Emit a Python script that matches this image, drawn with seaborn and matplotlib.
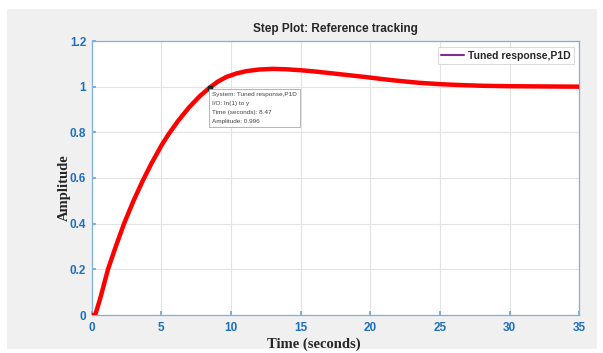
import numpy as np
import pandas as pd
import matplotlib
matplotlib.use("Agg")
import matplotlib.pyplot as plt
from matplotlib.lines import Line2D
from matplotlib.patches import Rectangle
import seaborn as sns

# Step response of the tuned PID loop
time_s = [0.0, 0.25, 0.6, 1.17, 1.7, 2.32, 3.0, 3.64, 4.3, 5.03, 5.5, 6.2,
          7.0, 7.75, 8.47, 9.05, 9.68, 10.4, 11.1, 12.0, 13.0, 14.0, 15.0,
          16.1, 17.3, 18.5, 19.7, 20.9, 22.1, 23.5, 25.0, 26.5, 28.0, 30.0,
          32.5, 35.0]
amplitude = [0.0, 0.0, 0.07, 0.2, 0.295, 0.40, 0.50, 0.585, 0.665, 0.745,
             0.79, 0.85, 0.91, 0.958, 0.996, 1.022, 1.043, 1.058, 1.068,
             1.075, 1.078, 1.076, 1.072, 1.066, 1.058, 1.050, 1.042, 1.033,
             1.025, 1.017, 1.011, 1.007, 1.004, 1.002, 1.001, 1.000]

x_ticks = [0, 5, 10, 15, 20, 25, 30, 35]
y_ticks = [0, 0.2, 0.4, 0.6, 0.8, 1.0, 1.2]
y_tick_labels = ["0", "0.2", "0.4", "0.6", "0.8", "1", "1.2"]

series_name = "Tuned response,P1D"
probe_time = 8.47
probe_amp = 0.996

sns.set_theme(style="whitegrid")
plt.rcParams["font.family"] = ["Liberation Sans", "DejaVu Sans"]

df = pd.DataFrame({"Time": time_s, "Amplitude": amplitude})

fig = plt.figure(figsize=(6.03, 3.53), dpi=100, facecolor="white")
fig.patches.append(Rectangle((7 / 603, 4 / 353), 590 / 603, 340 / 353,
                             transform=fig.transFigure, facecolor="#f0f0f0",
                             edgecolor="none", zorder=-10))
ax = fig.add_axes([91.7 / 603, 1 - 315 / 353, (579.3 - 91.7) / 603, (315 - 41) / 353])
ax.set_facecolor("white")

sns.lineplot(data=df, x="Time", y="Amplitude", ax=ax, color="#ff0000",
             linewidth=3.2, legend=False, zorder=3)
for ln in ax.get_lines():
    ln.set_solid_joinstyle("round")
    ln.set_solid_capstyle("round")

ax.set_xlim(0, 35)
ax.set_ylim(0, 1.2)
ax.set_xticks(x_ticks)
ax.set_xticklabels([str(v) for v in x_ticks])
ax.set_yticks(y_ticks)
ax.set_yticklabels(y_tick_labels)

tick_blue = "#1f6fbf"
for lab in ax.get_xticklabels() + ax.get_yticklabels():
    lab.set_fontweight("bold")
    lab.set_color(tick_blue)
    lab.set_fontsize(8.5)
ax.tick_params(axis="both", which="both", direction="in", length=3,
               color="#6fa8dc", pad=4, bottom=True, left=True)
ax.tick_params(axis="x", pad=5)

ax.grid(True, color="#e3e3e3", linewidth=0.8)
for side in ["left", "bottom", "right", "top"]:
    ax.spines[side].set_visible(True)
    ax.spines[side].set_color("#7fb0dd")
    ax.spines[side].set_linewidth(0.9)

ax.set_xlabel("")
ax.set_ylabel("")
fig.text(314 / 603, 1 - 344 / 353, "Time (seconds)", ha="center", va="center",
         fontsize=10.5, fontweight="bold", family=["Liberation Serif", "DejaVu Serif"])
fig.text(64 / 603, 1 - 188 / 353, "Amplitude", ha="center", va="center",
         rotation=90, fontsize=10.5, fontweight="bold",
         family=["Liberation Serif", "DejaVu Serif"])
fig.text(335.5 / 603, 1 - 29 / 353, "Step Plot: Reference tracking",
         ha="center", va="center", fontsize=8.5, fontweight="bold")

# Data tip on the response
ax.plot([probe_time], [probe_amp], marker="s", markersize=2.5, color="#222222",
        zorder=4)
tip = ("System: Tuned response,P1D\nI/O: In(1) to y\n"
       f"Time (seconds): {probe_time}\nAmplitude: {probe_amp}")
ax.annotate(tip, xy=(probe_time, probe_amp), xytext=(2, -3),
            textcoords="offset points", ha="left", va="top",
            fontsize=4.6, color="#444444", linespacing=2.0, zorder=5,
            bbox=dict(boxstyle="square,pad=0.5", facecolor="white",
                      edgecolor="#aaaaaa", linewidth=0.6))

handle = Line2D([0], [0], color="#7e2f8e", linewidth=1.5)
leg = ax.legend([handle], [series_name], loc="upper right",
                bbox_to_anchor=(0.993, 0.985), fontsize=7.5, frameon=True,
                fancybox=False, handlelength=2.2, handletextpad=0.3,
                borderpad=0.35, borderaxespad=0.2)
leg.get_frame().set_edgecolor("#c8c8c8")
leg.get_frame().set_linewidth(0.6)
for t in leg.get_texts():
    t.set_fontweight("bold")

fig.savefig("out.png", dpi=100, facecolor="white")
